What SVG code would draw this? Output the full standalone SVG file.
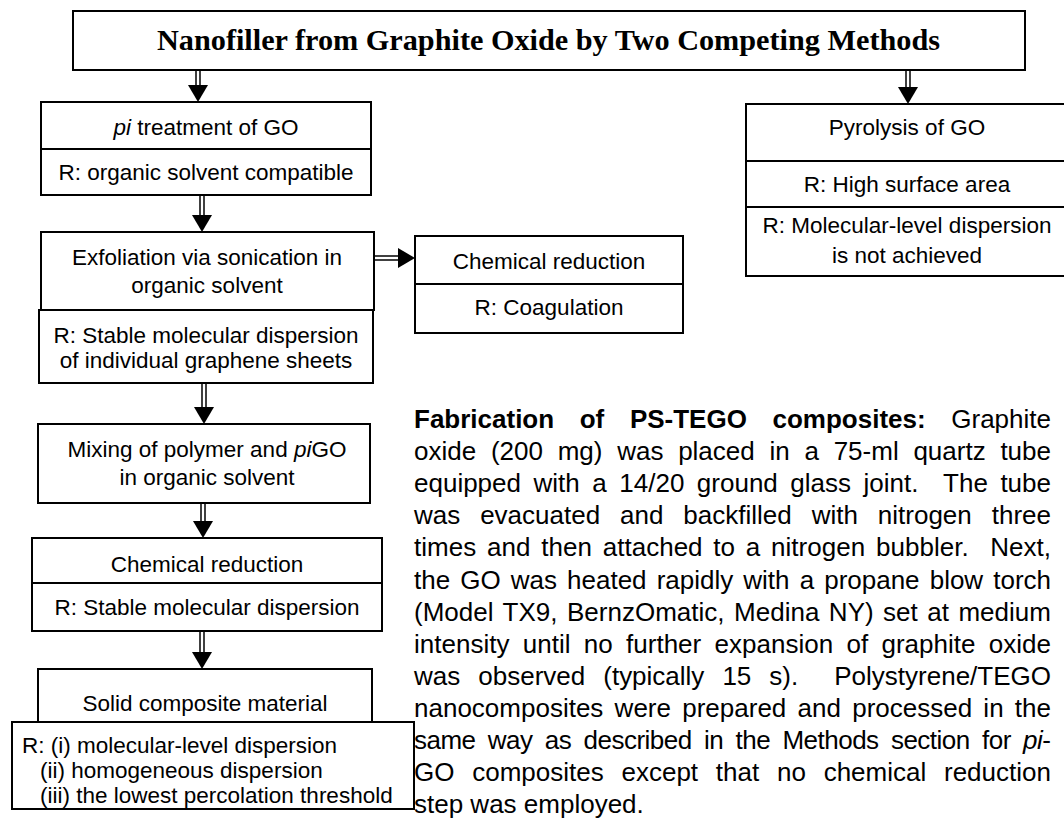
<svg xmlns="http://www.w3.org/2000/svg" width="1064" height="821" viewBox="0 0 1064 821">
<style>
.box{fill:#fff;stroke:#000;stroke-width:2}
.div{stroke:#000;stroke-width:2}
.t{font-family:"Liberation Sans",Arial,sans-serif;font-size:22.5px;fill:#000}
.c{text-anchor:middle}
.p{font-family:"Liberation Sans",Arial,sans-serif;font-size:26px;fill:#000}
.sh{stroke:#000;stroke-width:1.5}
.hd{fill:#000}
</style>
<rect width="1064" height="821" fill="#fff"/>
<g id="title">
<rect class="box" x="73" y="11" width="952" height="59"/>
<text x="548.5" y="50" text-anchor="middle" textLength="783" lengthAdjust="spacingAndGlyphs" style="font-family:'Liberation Serif','Times New Roman',serif;font-size:29px;font-weight:bold">Nanofiller from Graphite Oxide by Two Competing Methods</text>
</g>
<g id="connectors">
<g><line class="sh" x1="196" y1="70" x2="196" y2="86"/><line class="sh" x1="200" y1="70" x2="200" y2="86"/><polygon class="hd" points="188,85 208,85 198,102"/></g>
<g><line class="sh" x1="200" y1="195" x2="200" y2="216"/><line class="sh" x1="204" y1="195" x2="204" y2="216"/><polygon class="hd" points="192,215 212,215 202,232"/></g>
<g><line class="sh" x1="202" y1="383" x2="202" y2="408"/><line class="sh" x1="206" y1="383" x2="206" y2="408"/><polygon class="hd" points="194,407 214,407 204,424"/></g>
<g><line class="sh" x1="201" y1="503" x2="201" y2="522"/><line class="sh" x1="205" y1="503" x2="205" y2="522"/><polygon class="hd" points="193,521 213,521 203,538"/></g>
<g><line class="sh" x1="200" y1="631" x2="200" y2="653"/><line class="sh" x1="204" y1="631" x2="204" y2="653"/><polygon class="hd" points="192,652 212,652 202,669"/></g>
<g><line class="sh" x1="906" y1="70" x2="906" y2="88"/><line class="sh" x1="910" y1="70" x2="910" y2="88"/><polygon class="hd" points="898,87 918,87 908,104"/></g>
<g><line class="sh" x1="374" y1="256" x2="399" y2="256"/><line class="sh" x1="374" y1="260" x2="399" y2="260"/><polygon class="hd" points="398,248 398,268 415,258"/></g>
</g>
<g id="pi-treatment">
<rect class="box" x="41" y="102" width="330" height="93"/>
<line class="div" x1="41" y1="149" x2="371" y2="149"/>
<text class="t c" x="206" y="135"><tspan font-style="italic">pi</tspan> treatment of GO</text>
<text class="t c" x="206" y="180">R: organic solvent compatible</text>
</g>
<g id="exfoliation">
<rect class="box" x="41" y="232" width="333" height="78"/>
<text class="t c" x="207" y="265">Exfoliation via sonication in</text>
<text class="t c" x="207" y="293">organic solvent</text>
</g>
<g id="exfoliation-result">
<rect class="box" x="39" y="310" width="334" height="73"/>
<text class="t c" x="206" y="343">R: Stable molecular dispersion</text>
<text class="t c" x="206" y="368">of individual graphene sheets</text>
</g>
<g id="chem-reduction-side">
<rect class="box" x="415" y="236" width="268" height="97"/>
<line class="div" x1="415" y1="284" x2="683" y2="284"/>
<text class="t c" x="549" y="269">Chemical reduction</text>
<text class="t c" x="549" y="315">R: Coagulation</text>
</g>
<g id="pyrolysis">
<rect class="box" x="746" y="104" width="322" height="172"/>
<line class="div" x1="746" y1="161" x2="1064" y2="161"/>
<line class="div" x1="746" y1="207" x2="1064" y2="207"/>
<text class="t c" x="907" y="135">Pyrolysis of GO</text>
<text class="t c" x="907" y="192">R: High surface area</text>
<text class="t c" x="907" y="233">R: Molecular-level dispersion</text>
<text class="t c" x="907" y="263">is not achieved</text>
</g>
<g id="mixing">
<rect class="box" x="38" y="424" width="332" height="79"/>
<text class="t c" x="207" y="457">Mixing of polymer and <tspan font-style="italic">pi</tspan>GO</text>
<text class="t c" x="207" y="485">in organic solvent</text>
</g>
<g id="chem-reduction">
<rect class="box" x="32" y="538" width="350" height="93"/>
<line class="div" x1="32" y1="583" x2="382" y2="583"/>
<text class="t c" x="207" y="572">Chemical reduction</text>
<text class="t c" x="207" y="615">R: Stable molecular dispersion</text>
</g>
<g id="solid-composite">
<rect class="box" x="38" y="669" width="334" height="53"/>
<text class="t c" x="205" y="711">Solid composite material</text>
</g>
<g id="final-result">
<rect class="box" x="12" y="722" width="402" height="87"/>
<text class="t" x="22" y="753">R: (i) molecular-level dispersion</text>
<text class="t" x="40" y="778">(ii) homogeneous dispersion</text>
<text class="t" x="40" y="803">(iii) the lowest percolation threshold</text>
</g>
<g id="paragraph" class="p">
<text x="414" y="428" word-spacing="18.4" textLength="637" lengthAdjust="spacing"><tspan font-weight="bold">Fabrication of PS-TEGO composites:</tspan> Graphite</text>
<text x="414" y="460.1" word-spacing="7.5" textLength="637" lengthAdjust="spacing">oxide (200 mg) was placed in a 75-ml quartz tube</text>
<text x="414" y="492.2" word-spacing="5.3" textLength="637" lengthAdjust="spacing">equipped with a 14/20 ground glass joint.&#160; The tube</text>
<text x="414" y="524.3" word-spacing="12.7" textLength="637" lengthAdjust="spacing">was evacuated and backfilled with nitrogen three</text>
<text x="414" y="556.4" word-spacing="3.5" textLength="637" lengthAdjust="spacing">times and then attached to a nitrogen bubbler.&#160; Next,</text>
<text x="414" y="588.5" word-spacing="2.9" textLength="637" lengthAdjust="spacing">the GO was heated rapidly with a propane blow torch</text>
<text x="414" y="620.6" word-spacing="2.2" textLength="637" lengthAdjust="spacing">(Model TX9, BernzOmatic, Medina NY) set at medium</text>
<text x="414" y="652.7" word-spacing="6.1" textLength="637" lengthAdjust="spacing">intensity until no further expansion of graphite oxide</text>
<text x="414" y="684.8" word-spacing="10.8" textLength="637" lengthAdjust="spacing">was observed (typically 15 s).&#160; Polystyrene/TEGO</text>
<text x="414" y="716.9" word-spacing="4" textLength="637" lengthAdjust="spacing">nanocomposites were prepared and processed in the</text>
<text x="414" y="749" word-spacing="5.6" textLength="637" lengthAdjust="spacing">same way as described in the Methods section for <tspan font-style="italic">pi</tspan>-</text>
<text x="414" y="781.1" word-spacing="10.5" textLength="637" lengthAdjust="spacing">GO composites except that no chemical reduction</text>
<text x="414" y="813.2">step was employed.</text>
</g>
</svg>
